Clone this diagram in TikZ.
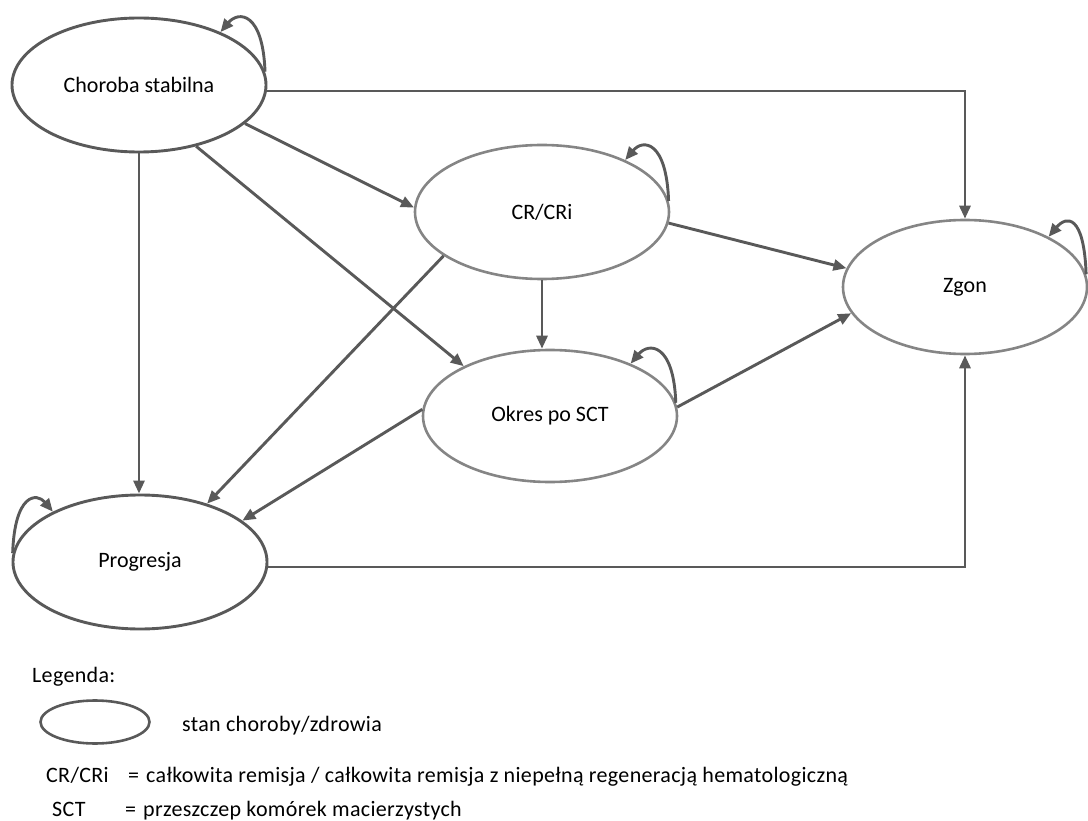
\documentclass[tikz,border=0pt]{standalone}
\usepackage{fontspec}
\setmainfont{Carlito}
\newfontfamily\legfont[LetterSpace=1.5]{Carlito}
\usetikzlibrary{shapes.geometric,arrows.meta}
\definecolor{darkline}{HTML}{595959}
\definecolor{lightline}{HTML}{858585}
\begin{document}
\begin{tikzpicture}[x=1pt,y=-1pt,
  font=\fontsize{22}{26}\selectfont,
  stateD/.style={ellipse, draw=darkline, line width=2.9pt, inner sep=0pt, minimum width=254pt, minimum height=134pt},
  stateL/.style={ellipse, draw=lightline, line width=2.6pt, inner sep=0pt, minimum width=254pt, minimum height=134pt},
  arr/.style={draw=darkline, line width=2.9pt, -{Triangle[length=13pt,width=11pt]}},
  lbl/.style={anchor=base west, inner sep=0pt, font=\fontsize{22}{26}\legfont}]
\useasboundingbox (0,0) rectangle (1088,821);
% states
\node[stateD] (cs) at (139,85) {Choroba stabilna};
\node[stateL] (cr) at (542,212) {CR/CRi};
\node[stateL, minimum height=132pt] (ok) at (550,416) {Okres po SCT};
\node[stateL, minimum width=244pt] (zg) at (965,287) {Zgon};
\node[stateD] (pg) at (140,562) {Progresja};
% transitions
\draw[arr] ([yshift=-6pt]cs.east) -| (zg.north);
\draw[arr] (cs.-20) -- (cr.178);
\draw[arr] (cs.-47) -- (ok.150);
\draw[arr] (cs.south) -- (cs.south |- pg.north);
\draw[arr] (cr.204) -- (pg.41);
\draw[arr] (cr.south) -- (cr.south |- ok.north);
\draw[arr] (cr.-5) -- (zg.171);
\draw[arr] (ok.4) -- (zg.193);
\draw[arr] (ok.177) -- (pg.22);
\draw[arr] ([yshift=-5pt]pg.east) -| (zg.south);
% self loops
\draw[arr] (cs.6) to[out=92,in=50,out distance=60pt,in distance=28pt] (cs.33);
\draw[arr] (cr.5) to[out=92,in=50,out distance=60pt,in distance=28pt] (cr.32);
\draw[arr] (ok.6) to[out=92,in=50,out distance=60pt,in distance=28pt] (ok.33);
\draw[arr] (zg.6) to[out=92,in=50,out distance=60pt,in distance=28pt] (zg.31);
\draw[arr] (pg.176) to[out=88,in=130,out distance=60pt,in distance=25pt] (pg.150);
% legend
\node[lbl] (leg) at (32,682) {Legenda:};
\node[stateD, line width=2.6pt, minimum width=109pt, minimum height=43pt] (legell) at (95,722) {};
\node[lbl] (legtxt) at (182,731) {stan choroby/zdrowia};
\node[lbl] (crabbr) at (46,782) {CR/CRi};
\node[lbl] (creq) at (128,782) {=};
\node[lbl] (crdef) at (146,782) {całkowita remisja / całkowita remisja z niepełną regeneracją hematologiczną};
\node[lbl] (sctabbr) at (52,816) {SCT};
\node[lbl] (scteq) at (125,816) {=};
\node[lbl] (sctdef) at (143,816) {przeszczep komórek macierzystych};
\end{tikzpicture}
\end{document}
